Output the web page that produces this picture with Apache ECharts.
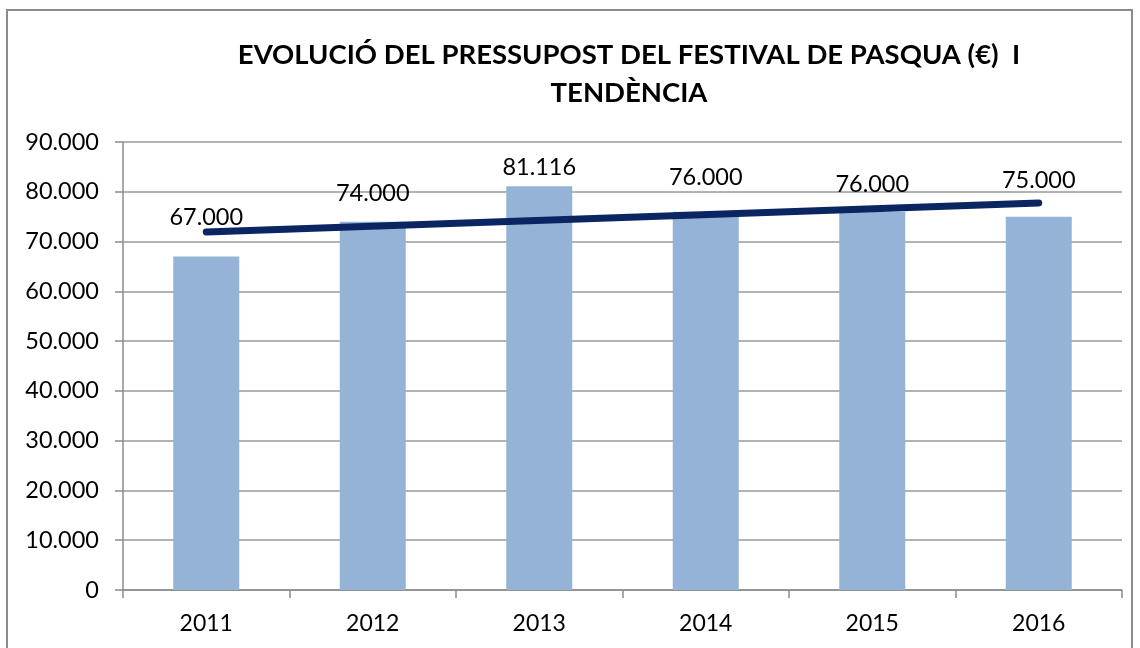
<!DOCTYPE html>
<html>
<head>
<meta charset="utf-8">
<script src="https://cdn.jsdelivr.net/npm/echarts@6/dist/echarts.min.js"></script>
<style>
  html, body { margin: 0; padding: 0; background: #fff; }
  #chart { width: 1140px; height: 648px; }
</style>
</head>
<body>
<div id="chart"></div>
<script>
// ---- dades ----
const years = ['2011', '2012', '2013', '2014', '2015', '2016']
const budget = [67000, 74000, 81116, 76000, 76000, 75000]
// línia de tendència: només els extrems llegits del gràfic
const trend = [71930, null, null, null, null, 77770]
const yTicks = [0, 10000, 20000, 30000, 40000, 50000, 60000, 70000, 80000, 90000]

// distància de cada etiqueta respecte la barra (posició manual com a l'original)
const labelGap = [27, 16, 7, 22, 15, 24]

const fmt = v => String(v).replace(/\B(?=(\d{3})+(?!\d))/g, '.')

const chart = echarts.init(document.getElementById('chart'))

chart.setOption({
  animation: false,
  textStyle: { fontFamily: 'Lato' },
  title: {
    text: 'EVOLUCIÓ DEL PRESSUPOST DEL FESTIVAL DE PASQUA (€)  I\nTENDÈNCIA',
    left: 624,
    top: 31,
    textAlign: 'center',
    textStyle: { fontFamily: 'Lato', fontWeight: 'bold', fontSize: 27.5, lineHeight: 38, color: '#000' }
  },
  graphic: [{
    type: 'rect',
    shape: { x: 7, y: 10, width: 1125, height: 660 },
    style: { fill: 'none', stroke: '#8c8c8c', lineWidth: 2 },
    silent: true
  }],
  grid: { left: 123, top: 142, right: 18, bottom: 58 },
  xAxis: {
    type: 'category',
    data: years,
    axisLine: { lineStyle: { color: '#8c8c8c', width: 1.5 } },
    axisTick: { show: true, alignWithLabel: false, length: 8, lineStyle: { color: '#8c8c8c', width: 1.5 } },
    axisLabel: { color: '#000', fontSize: 23, margin: 22 }
  },
  yAxis: {
    type: 'value',
    min: yTicks[0],
    max: yTicks[yTicks.length - 1],
    interval: 10000,
    axisLine: { show: true, lineStyle: { color: '#8c8c8c', width: 1.5 } },
    axisTick: { show: true, length: 8, lineStyle: { color: '#8c8c8c', width: 1.5 } },
    splitLine: { lineStyle: { color: '#9a9a9a', width: 1.5 } },
    axisLabel: { color: '#000', fontSize: 23.5, margin: 24, formatter: fmt }
  },
  series: [
    {
      type: 'bar',
      barWidth: 66,
      itemStyle: { color: '#95b3d7' },
      data: budget.map((v, i) => ({
        value: v,
        label: { distance: labelGap[i] }
      })),
      label: {
        show: true,
        position: 'top',
        color: '#000',
        fontSize: 23.5,
        formatter: p => fmt(p.value)
      },
      z: 2
    },
    {
      type: 'line',
      data: trend,
      connectNulls: true,
      showSymbol: false,
      symbol: 'none',
      lineStyle: { color: '#0b2462', width: 7, cap: 'round' },
      z: 3
    }
  ]
})
</script>
</body>
</html>
